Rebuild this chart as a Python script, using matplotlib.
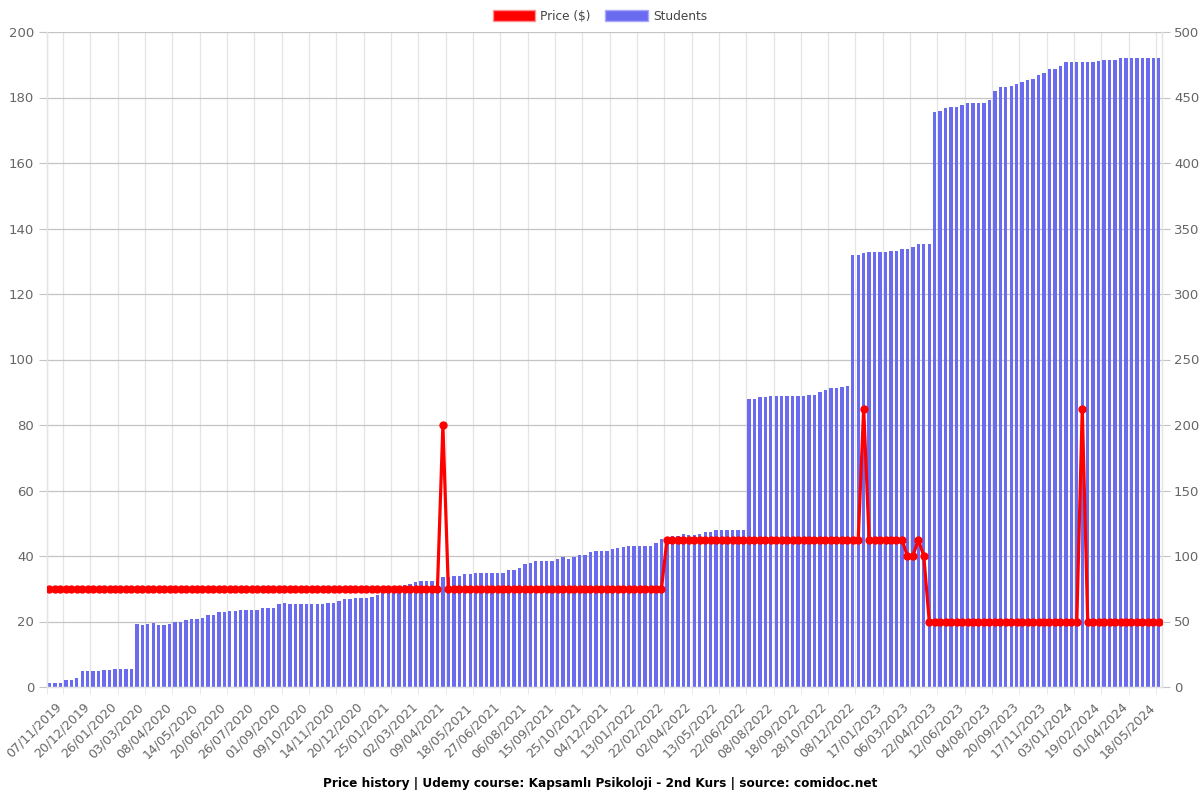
import matplotlib
matplotlib.use("Agg")
import matplotlib.pyplot as plt
import matplotlib.transforms as mtransforms
from matplotlib.patches import Patch

# students per snapshot (right axis), one bar per snapshot
students = [
    3, 3, 3, 5, 5, 7, 12, 12, 12, 12,
    13, 13, 14, 14, 14, 14, 48, 47, 48, 49,
    47, 47, 48, 50, 50, 51, 52, 52, 53, 55,
    55, 57, 57, 58, 58, 59, 59, 59, 59, 60,
    60, 60, 63, 64, 63, 63, 63, 63, 63, 63,
    63, 64, 64, 66, 67, 67, 68, 68, 68, 69,
    70, 72, 75, 76, 77, 78, 79, 80, 81, 81,
    81, 81, 84, 84, 85, 85, 86, 86, 87, 87,
    87, 87, 87, 87, 89, 89, 91, 94, 95, 96,
    96, 96, 96, 98, 99, 98, 99, 101, 101, 103,
    104, 104, 104, 105, 106, 107, 108, 108, 108, 108,
    108, 110, 113, 114, 115, 115, 117, 116, 116, 117,
    118, 118, 120, 120, 120, 120, 120, 120, 220, 220,
    221, 221, 222, 222, 222, 222, 222, 222, 222, 223,
    223, 225, 227, 228, 228, 229, 230, 330, 330, 331,
    332, 332, 332, 332, 333, 333, 334, 334, 336, 338,
    338, 338, 439, 440, 442, 443, 443, 444, 446, 446,
    446, 446, 448, 455, 458, 458, 459, 460, 462, 463,
    464, 467, 469, 472, 472, 474, 477, 477, 477, 477,
    477, 477, 478, 479, 479, 479, 480, 480, 480, 480,
    480, 480, 480, 480,
]

# price in $ (left axis)
price = [
    30, 30, 30, 30, 30, 30, 30, 30, 30, 30,
    30, 30, 30, 30, 30, 30, 30, 30, 30, 30,
    30, 30, 30, 30, 30, 30, 30, 30, 30, 30,
    30, 30, 30, 30, 30, 30, 30, 30, 30, 30,
    30, 30, 30, 30, 30, 30, 30, 30, 30, 30,
    30, 30, 30, 30, 30, 30, 30, 30, 30, 30,
    30, 30, 30, 30, 30, 30, 30, 30, 30, 30,
    30, 30, 80, 30, 30, 30, 30, 30, 30, 30,
    30, 30, 30, 30, 30, 30, 30, 30, 30, 30,
    30, 30, 30, 30, 30, 30, 30, 30, 30, 30,
    30, 30, 30, 30, 30, 30, 30, 30, 30, 30,
    30, 30, 30, 45, 45, 45, 45, 45, 45, 45,
    45, 45, 45, 45, 45, 45, 45, 45, 45, 45,
    45, 45, 45, 45, 45, 45, 45, 45, 45, 45,
    45, 45, 45, 45, 45, 45, 45, 45, 45, 85,
    45, 45, 45, 45, 45, 45, 45, 40, 40, 45,
    40, 20, 20, 20, 20, 20, 20, 20, 20, 20,
    20, 20, 20, 20, 20, 20, 20, 20, 20, 20,
    20, 20, 20, 20, 20, 20, 20, 20, 20, 85,
    20, 20, 20, 20, 20, 20, 20, 20, 20, 20,
    20, 20, 20, 20,
]

# dates shown on the x axis (every 5th snapshot, starting at the 4th)
tick_labels = [
    "07/11/2019", "20/12/2019", "26/01/2020", "03/03/2020", "08/04/2020",
    "14/05/2020", "20/06/2020", "26/07/2020", "01/09/2020", "09/10/2020",
    "14/11/2020", "20/12/2020", "25/01/2021", "02/03/2021", "09/04/2021",
    "18/05/2021", "27/06/2021", "06/08/2021", "15/09/2021", "25/10/2021",
    "04/12/2021", "13/01/2022", "22/02/2022", "02/04/2022", "13/05/2022",
    "22/06/2022", "08/08/2022", "18/09/2022", "28/10/2022", "08/12/2022",
    "17/01/2023", "06/03/2023", "22/04/2023", "12/06/2023", "04/08/2023",
    "20/09/2023", "17/11/2023", "03/01/2024", "19/02/2024", "01/04/2024",
    "18/05/2024",
]

BAR_COLOR = "#6b6bf0"
LINE_COLOR = "#ff0000"
TEXT_COLOR = "#666666"
H_GRID = "#c4c4c4"
V_GRID = "#e4e4e4"

n = len(students)
x = list(range(n))
tick_pos = [3 + 5 * i for i in range(len(tick_labels))]
grid_pos = [-0.5] + [p - 0.5 for p in tick_pos]

plt.rcParams["font.family"] = ["DejaVu Sans"]

fig = plt.figure(figsize=(12, 8), dpi=100)
ax = fig.add_axes([46.7 / 1200, 1 - 687 / 800, (1161.5 - 46.7) / 1200, (687 - 32) / 800])

# Students bars (right axis)
ax.bar(x, students, width=0.62, color=BAR_COLOR, zorder=2)
ax.set_xlim(-0.5, n - 0.5)
ax.set_ylim(0, 500)
ax.set_axisbelow(True)

# Price line (left axis), drawn on top
ax2 = ax.twinx()
ax.yaxis.tick_right()
ax2.yaxis.tick_left()
ax2.plot(x, price, color=LINE_COLOR, linewidth=2.3, marker="o", markersize=5, zorder=3)
ax2.set_ylim(0, 200)

ax.set_yticks(range(0, 501, 50))
ax2.set_yticks(range(0, 201, 20))
ax.yaxis.grid(True, color=H_GRID, linewidth=0.9)

ax.set_xticks(tick_pos)
ax.set_xticklabels(tick_labels, rotation=45, ha="right", va="center", rotation_mode="anchor")
ax.set_xticks(grid_pos, minor=True)
ax.xaxis.grid(True, which="minor", color=V_GRID, linewidth=0.9)
ax.tick_params(axis="x", which="major", length=0, pad=13, labelsize=9, labelcolor=TEXT_COLOR)
ax.tick_params(axis="x", which="minor", length=5, color=V_GRID)
ax.tick_params(axis="y", length=6, color=H_GRID, pad=3, labelsize=9.5, labelcolor=TEXT_COLOR)
ax2.tick_params(axis="y", length=6, color=H_GRID, pad=3, labelsize=9.5, labelcolor=TEXT_COLOR)

shift = mtransforms.ScaledTranslation(-6 / 100, 0, fig.dpi_scale_trans)
for lbl in ax.get_xticklabels():
    lbl.set_transform(lbl.get_transform() + shift)

for a in (ax, ax2):
    a.spines["top"].set_visible(False)
    for side in ("left", "right", "bottom"):
        a.spines[side].set_color(V_GRID)
        a.spines[side].set_linewidth(0.9)

handles = [
    Patch(facecolor=LINE_COLOR, edgecolor="#ff9090", linewidth=1),
    Patch(facecolor=BAR_COLOR, edgecolor="#a8a8ff", linewidth=1),
]
fig.legend(handles, ["Price ($)", "Students"], loc="center", bbox_to_anchor=(0.5, 1 - 16 / 800),
           ncol=2, frameon=False, fontsize=8.7, handlelength=3.5, handleheight=1.05,
           handletextpad=0.45, columnspacing=1.2, labelcolor="#444444")

fig.text(0.5, 1 - 783 / 800,
         "Price history | Udemy course: Kapsamlı Psikoloji - 2nd Kurs | source: comidoc.net",
         ha="center", va="center", fontsize=8.7, fontweight="bold")

fig.savefig("out.png", dpi=100)
